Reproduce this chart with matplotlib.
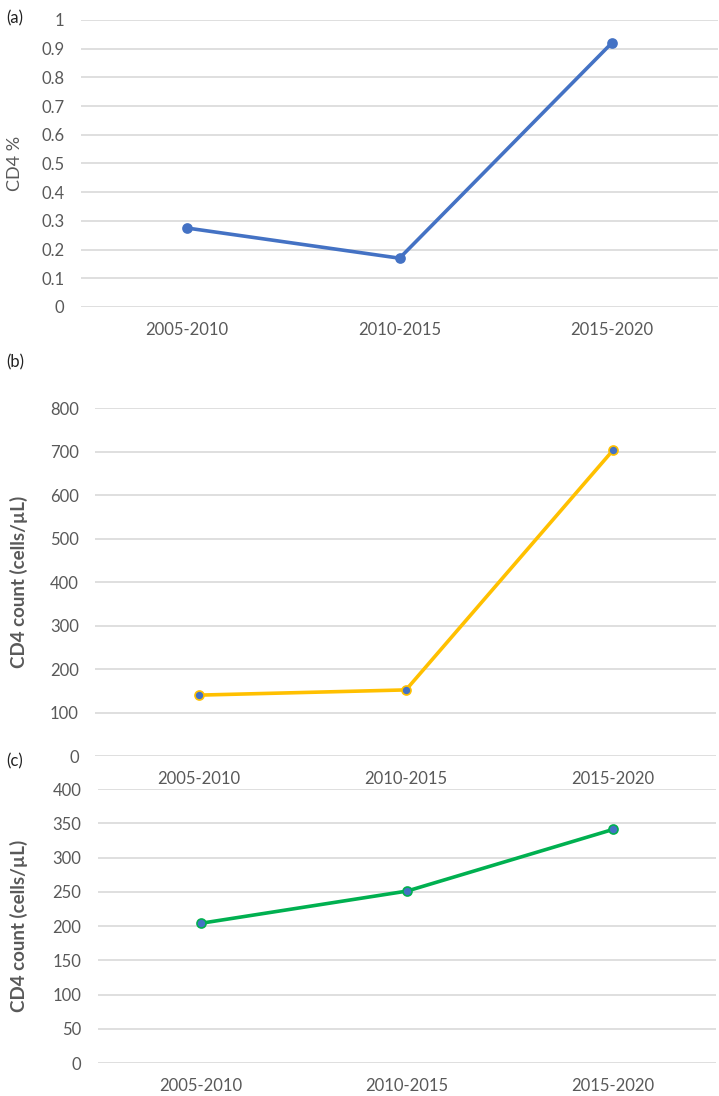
import matplotlib.pyplot as plt

plt.rcParams['font.family'] = ['Lato', 'DejaVu Sans']

periods = ['2005-2010', '2010-2015', '2015-2020']
cd4_pct = [0.275, 0.17, 0.92]
cd4_count_b = [140, 152, 703]
cd4_count_c = [204, 251, 341]

GRAY = '#595959'
GRID = '#d9d9d9'
BLUE = '#4472c4'
YELLOW = '#ffc000'
GREEN = '#00b050'

fig = plt.figure(figsize=(7.19, 10.96), dpi=100)

# (left, bottom, width, height) in figure fractions
boxes = [
    (0.1127, 0.7199, 0.886, 0.2619),
    (0.1328, 0.3102, 0.8637, 0.3175),
    (0.1363, 0.0301, 0.8596, 0.2500),
]
panels = [
    ('(a)', cd4_pct, BLUE, BLUE, 'CD4 %', False, (0, 1), 0.1),
    ('(b)', cd4_count_b, YELLOW, BLUE, 'CD4 count (cells/µL)', True, (0, 800), 100),
    ('(c)', cd4_count_c, GREEN, BLUE, 'CD4 count (cells/µL)', True, (0, 400), 50),
]
tag_y = [0.991, 0.677, 0.313]
label_x = [0.032, 0.039, 0.039]

for i, (box, (tag, vals, col, mcol, ylab, bold, (lo, hi), step)) in enumerate(zip(boxes, panels)):
    ax = fig.add_axes(box)
    x = range(len(periods))
    ax.plot(x, vals, color=col, lw=2.6, marker='o', ms=6.5,
            mfc=mcol, mec=col, mew=1.2, zorder=3)
    ax.set_xlim(-0.5, len(periods) - 0.5)
    ax.set_ylim(lo, hi)
    n = int(round((hi - lo) / step))
    ticks = [lo + k * step for k in range(n + 1)]
    ax.set_yticks(ticks)
    if step < 1:
        ax.set_yticklabels(['0' if t == 0 else ('1' if abs(t - 1) < 1e-9 else f'{t:.1f}') for t in ticks])
    else:
        ax.set_yticklabels([str(int(t)) for t in ticks])
    ax.set_xticks(list(x))
    ax.set_xticklabels(periods)
    for s in ax.spines.values():
        s.set_visible(False)
    ax.grid(axis='y', color=GRID, lw=1.2)
    ax.set_axisbelow(True)
    ax.tick_params(length=0, colors=GRAY, labelsize=12)
    ax.tick_params(axis='y', pad=12)
    ax.tick_params(axis='x', pad=11)
    ax.set_ylabel(ylab, color=GRAY, fontsize=13.5 if bold else 13,
                  fontweight='bold' if bold else 'normal')
    ax.yaxis.set_label_coords(label_x[i], box[1] + box[3] / 2, transform=fig.transFigure)
    fig.text(0.008, tag_y[i], tag, fontsize=12, color='#222222', va='top')

fig.savefig('out.png', dpi=100)
